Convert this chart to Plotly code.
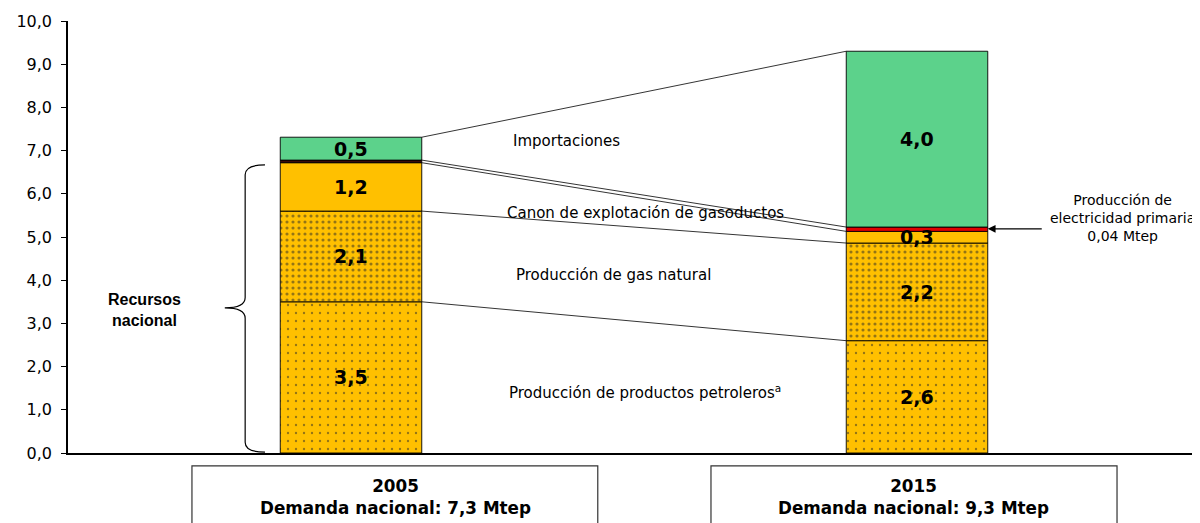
"""Recursos energéticos: 2005 vs 2015 stacked bars."""
import plotly.graph_objects as go

# data
years = ["2005", "2015"]
demand = ["7,3", "9,3"]
x_pos = [0, 1]
bar_width = 0.25

petroleo = [3.5, 2.6]
gas = [2.1, 2.26]
canon = [1.12, 0.27]
electricidad = [0.06, 0.1]
importaciones = [0.53, 4.07]

lbl_petroleo = ["3,5", "2,6"]
lbl_gas = ["2,1", "2,2"]
lbl_canon = ["1,2", "0,3"]
lbl_importaciones = ["0,5", "4,0"]

ORANGE = "#FFC000"
GREEN = "#5CD28B"
FONT = "DejaVu Sans"

segments = [
    ("Producción de productos petroleros", petroleo, lbl_petroleo,
     dict(color=ORANGE, pattern=dict(shape=".", fgcolor="#2a2a2a", size=8, solidity=0.07))),
    ("Producción de gas natural", gas, lbl_gas,
     dict(color=ORANGE, pattern=dict(shape=".", fgcolor="#2a2a2a", size=6, solidity=0.22))),
    ("Canon de explotación de gasoductos", canon, lbl_canon, dict(color=ORANGE)),
    ("Producción de electricidad primaria", electricidad, None, dict(color=["#3b0b08", "#e00000"])),
    ("Importaciones", importaciones, lbl_importaciones, dict(color=GREEN)),
]

fig = go.Figure()
base = [0.0, 0.0]
tops = []
for name, vals, labels, marker in segments:
    marker = dict(marker, line=dict(color="black", width=0.9))
    fig.add_trace(go.Bar(x=x_pos, y=vals, base=base, width=bar_width, marker=marker,
                         name=name, showlegend=False))
    if labels:
        for xi, b, v, t in zip(x_pos, base, vals, labels):
            fig.add_annotation(x=xi, y=b + v / 2, text=f"<b>{t}</b>", showarrow=False,
                               font=dict(family=FONT, size=19, color="black"))
    base = [b + v for b, v in zip(base, vals)]
    tops.append(list(base))

# connector lines between the segment tops
for t in tops:
    fig.add_trace(go.Scatter(x=[x_pos[0] + bar_width / 2, x_pos[1] - bar_width / 2], y=t,
                             mode="lines", line=dict(color="black", width=0.8),
                             showlegend=False, hoverinfo="skip"))

# category labels between the bars
mid_labels = [
    ("Importaciones", 0.38, 7.22),
    ("Canon de explotación de gasoductos", 0.52, 5.56),
    ("Producción de gas natural", 0.463, 4.12),
    ("Producción de productos petroleros<sup>a</sup>", 0.52, 1.42),
]
for txt, xx, yy in mid_labels:
    fig.add_annotation(x=xx, y=yy, text=txt, showarrow=False,
                       font=dict(family=FONT, size=15, color="black"))

# electricity callout
fig.add_annotation(x=1.363, y=5.44, text="Producción de<br>electricidad primaria<br>0,04 Mtep",
                   showarrow=False, font=dict(family=FONT, size=14, color="black"))
fig.add_annotation(x=x_pos[1] + bar_width / 2, y=tops[3][1] - 0.04, ax=58, ay=0, text=" ",
                   showarrow=True, arrowhead=2, arrowsize=1.3, arrowwidth=1.2, arrowcolor="black")

# brace for national resources
fig.add_shape(type="path", xref="x", yref="y",
              path="M -0.152,6.67 Q -0.187,6.67 -0.187,6.44 L -0.187,3.6 Q -0.187,3.36 -0.223,3.36 "
                   "Q -0.187,3.36 -0.187,3.12 L -0.187,0.25 Q -0.187,0.02 -0.152,0.02",
              line=dict(color="black", width=1.2))
fig.add_annotation(x=-0.364, y=3.31, text="<b>Recursos<br>nacional</b>", showarrow=False,
                   font=dict(family="Liberation Sans", size=16, color="black"))

# year boxes below the axis
boxes = [(0.1095, 0.468, 0.289), (0.568, 0.9267, 0.747)]
for (x0, x1, xc), yr, dm in zip(boxes, years, demand):
    fig.add_shape(type="rect", xref="paper", yref="paper", x0=x0, x1=x1, y0=-0.03, y1=-0.3,
                  line=dict(color="#333", width=1.2), fillcolor="white")
    fig.add_annotation(xref="paper", yref="paper", x=xc, y=-0.102, xanchor="center", yanchor="middle",
                       text=f"<b>{yr}<br>Demanda nacional: {dm} Mtep</b>",
                       showarrow=False, font=dict(family=FONT, size=16.8, color="black"))

# page body has an 8px margin, so the figure is sized to end at the window edge
fig.update_layout(
    width=1192, height=515,
    margin=dict(l=60, r=0, t=13, b=70),
    plot_bgcolor="white", paper_bgcolor="white",
    separators=",.",
    barmode="overlay",
    font=dict(family=FONT, size=16, color="black"),
)
fig.update_xaxes(range=[-0.5, 1.5], showticklabels=False, ticks="", showgrid=False,
                 zeroline=False, showline=True, linecolor="black", linewidth=2)
fig.update_yaxes(range=[0, 10], dtick=1, tickformat=".1f", ticks="outside", ticklen=5,
                 tickcolor="black", showgrid=False, zeroline=False, showline=True,
                 linecolor="black", linewidth=1.5, tickfont=dict(size=16), ticklabelstandoff=6)

fig.write_html("out.html")
